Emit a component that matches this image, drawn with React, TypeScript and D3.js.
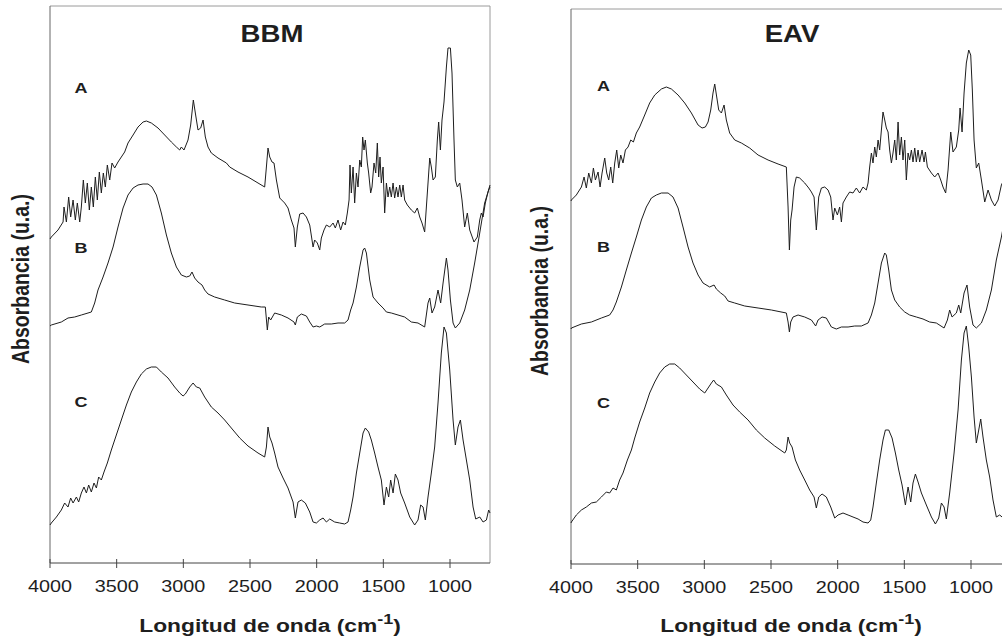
import React from 'react';
import * as d3 from 'd3';

type Pt = [number, number];

const tickValues = [4000, 3500, 3000, 2500, 2000, 1500, 1000];
const panelTitles = ['BBM', 'EAV'];
const traceLabels = ['A', 'B', 'C'];
const xTitle = 'Longitud de onda (cm';
const yTitle = 'Absorbancia (u.a.)';

// BBM panel (wavenumber cm-1, absorbance a.u. incl. stacking offset)
const bbmA: Pt[] = [
  [4000, 324], [3990, 326], [3940, 333], [3902, 341], [3895, 356], [3877, 341], [3860, 366], [3845, 346], [3827, 363], [3810, 343],
  [3795, 360], [3777, 341], [3765, 356], [3750, 383], [3735, 360], [3720, 380], [3705, 353], [3690, 376], [3675, 356], [3660, 386],
  [3645, 363], [3630, 391], [3615, 370], [3600, 390], [3585, 376], [3570, 398], [3552, 383], [3535, 400], [3515, 395], [3490, 401],
  [3465, 406], [3440, 411], [3415, 420], [3377, 428], [3340, 436], [3302, 441], [3277, 442], [3240, 440], [3190, 435], [3140, 428],
  [3090, 421], [3052, 416], [3027, 413], [3015, 416], [2995, 413], [2965, 423], [2945, 438], [2925, 463], [2910, 450], [2890, 433],
  [2870, 435], [2852, 443], [2835, 426], [2815, 416], [2790, 410], [2740, 405], [2677, 400], [2652, 396], [2590, 391], [2515, 386],
  [2440, 380], [2390, 376], [2377, 396], [2365, 415], [2352, 406], [2335, 401], [2320, 400], [2302, 383], [2277, 365], [2240, 360],
  [2215, 355], [2190, 343], [2170, 335], [2160, 316], [2145, 336], [2127, 349], [2102, 350], [2077, 346], [2052, 338], [2027, 316],
  [2015, 323], [1995, 320], [1977, 313], [1965, 325], [1945, 333], [1927, 338], [1902, 336], [1877, 340], [1860, 335], [1840, 343],
  [1820, 333], [1802, 341], [1785, 338], [1770, 350], [1757, 363], [1750, 398], [1740, 370], [1727, 396], [1715, 360], [1702, 390],
  [1690, 376], [1677, 403], [1665, 396], [1655, 426], [1645, 413], [1635, 423], [1620, 400], [1610, 390], [1595, 370], [1585, 376],
  [1570, 400], [1557, 390], [1545, 420], [1535, 386], [1525, 406], [1515, 380], [1502, 396], [1490, 350], [1477, 380], [1465, 366],
  [1452, 376], [1440, 366], [1427, 380], [1415, 365], [1402, 376], [1390, 366], [1377, 378], [1365, 366], [1352, 378], [1340, 363],
  [1320, 358], [1290, 353], [1265, 350], [1245, 355], [1227, 346], [1210, 340], [1190, 331], [1170, 370], [1152, 405], [1140, 396],
  [1127, 383], [1110, 386], [1095, 423], [1085, 441], [1072, 413], [1060, 443], [1045, 461], [1027, 496], [1015, 515], [997, 515],
  [985, 490], [970, 423], [960, 383], [945, 376], [927, 380], [910, 363], [890, 336], [870, 350], [852, 333], [820, 321],
  [795, 326], [777, 343], [765, 350], [752, 346], [735, 360], [715, 371], [700, 378],
];

const bbmB: Pt[] = [
  [4000, 237], [3990, 238], [3915, 241], [3865, 245], [3815, 246], [3765, 248], [3715, 250], [3690, 251], [3665, 260], [3640, 273],
  [3602, 286], [3565, 300], [3527, 316], [3490, 336], [3452, 355], [3415, 368], [3377, 375], [3340, 378], [3302, 379], [3265, 379],
  [3235, 376], [3202, 368], [3165, 350], [3127, 328], [3090, 310], [3052, 296], [3015, 288], [2977, 286], [2952, 287], [2935, 291],
  [2915, 285], [2890, 281], [2860, 278], [2840, 273], [2815, 269], [2765, 266], [2690, 263], [2615, 260], [2515, 258], [2415, 256],
  [2385, 256], [2370, 233], [2360, 246], [2345, 243], [2315, 250], [2265, 248], [2215, 245], [2170, 241], [2160, 238], [2145, 246],
  [2115, 249], [2077, 247], [2052, 241], [2027, 236], [2002, 237], [1977, 236], [1940, 239], [1890, 239], [1840, 240], [1790, 240],
  [1765, 243], [1745, 253], [1727, 260], [1702, 276], [1677, 296], [1652, 313], [1640, 315], [1627, 310], [1602, 283], [1577, 266],
  [1540, 260], [1502, 255], [1477, 251], [1440, 250], [1390, 248], [1340, 246], [1290, 241], [1240, 240], [1190, 236], [1165, 260],
  [1152, 265], [1135, 250], [1115, 256], [1090, 273], [1070, 260], [1052, 280], [1027, 305], [1015, 293], [997, 263], [977, 240],
  [960, 235], [927, 240], [890, 253], [852, 273], [815, 300], [777, 330], [740, 360], [710, 373], [700, 376],
];

const bbmC: Pt[] = [
  [4000, 38], [3990, 40], [3952, 46], [3915, 53], [3890, 60], [3865, 56], [3845, 65], [3827, 60], [3802, 66], [3785, 61],
  [3765, 70], [3745, 76], [3727, 70], [3710, 78], [3690, 71], [3670, 80], [3652, 75], [3635, 86], [3615, 83], [3595, 91],
  [3570, 100], [3540, 113], [3515, 123], [3490, 133], [3460, 145], [3427, 158], [3390, 171], [3352, 181], [3315, 189], [3277, 194],
  [3240, 196], [3202, 196], [3165, 191], [3115, 185], [3065, 176], [3027, 170], [3002, 167], [2985, 169], [2952, 176], [2927, 180],
  [2902, 176], [2877, 175], [2840, 166], [2790, 156], [2740, 150], [2690, 143], [2640, 135], [2577, 125], [2515, 117], [2440, 110],
  [2390, 106], [2377, 116], [2365, 136], [2352, 126], [2335, 120], [2315, 110], [2290, 96], [2252, 85], [2215, 75], [2177, 61],
  [2160, 45], [2140, 61], [2115, 63], [2085, 60], [2052, 51], [2027, 41], [2002, 40], [1977, 43], [1952, 45], [1927, 41],
  [1902, 44], [1865, 41], [1827, 40], [1790, 39], [1765, 41], [1745, 53], [1727, 66], [1702, 90], [1677, 110], [1652, 130],
  [1635, 135], [1610, 131], [1590, 123], [1565, 110], [1540, 96], [1515, 83], [1495, 58], [1477, 76], [1460, 66], [1445, 83],
  [1427, 70], [1410, 89], [1390, 83], [1370, 70], [1340, 60], [1302, 46], [1265, 38], [1240, 43], [1220, 58], [1202, 56],
  [1185, 43], [1165, 66], [1140, 90], [1115, 116], [1090, 160], [1065, 210], [1045, 236], [1027, 230], [1002, 193], [977, 143],
  [960, 118], [940, 136], [922, 143], [902, 123], [877, 103], [852, 83], [827, 56], [807, 44], [777, 46], [752, 41],
  [727, 43], [710, 53], [700, 50],
];

// EAV panel
const eavA: Pt[] = [
  [4000, 363], [3997, 364], [3960, 369], [3922, 377], [3902, 387], [3885, 376], [3867, 391], [3847, 381], [3832, 396], [3817, 384],
  [3797, 392], [3782, 377], [3767, 391], [3747, 406], [3732, 391], [3717, 384], [3702, 397], [3687, 381], [3672, 401], [3657, 414],
  [3642, 396], [3627, 409], [3610, 401], [3592, 414], [3572, 417], [3552, 424], [3532, 422], [3510, 431], [3485, 437], [3447, 449],
  [3410, 461], [3372, 469], [3322, 475], [3285, 477], [3247, 475], [3197, 469], [3147, 461], [3097, 451], [3047, 439], [3017, 436],
  [2992, 437], [2972, 442], [2952, 454], [2935, 471], [2922, 480], [2907, 467], [2892, 454], [2872, 451], [2852, 459], [2835, 444],
  [2810, 431], [2772, 424], [2722, 421], [2660, 416], [2597, 409], [2522, 404], [2447, 400], [2385, 397], [2372, 357], [2362, 314],
  [2352, 344], [2342, 354], [2327, 377], [2310, 387], [2285, 386], [2247, 381], [2217, 376], [2197, 372], [2177, 367], [2160, 334],
  [2142, 367], [2122, 376], [2097, 377], [2072, 374], [2052, 367], [2035, 344], [2022, 356], [2002, 349], [1985, 357], [1972, 342],
  [1960, 361], [1935, 367], [1910, 372], [1885, 371], [1860, 376], [1835, 371], [1810, 377], [1785, 374], [1772, 381], [1760, 397],
  [1747, 411], [1735, 401], [1722, 417], [1710, 407], [1697, 424], [1685, 414], [1672, 434], [1660, 452], [1647, 444], [1635, 436],
  [1622, 432], [1610, 414], [1597, 401], [1585, 411], [1572, 424], [1560, 404], [1547, 442], [1535, 409], [1522, 427], [1510, 404],
  [1497, 424], [1485, 384], [1472, 411], [1460, 404], [1447, 414], [1435, 402], [1422, 416], [1410, 402], [1397, 414], [1385, 402],
  [1367, 414], [1352, 402], [1342, 412], [1327, 397], [1297, 391], [1272, 387], [1247, 391], [1227, 384], [1210, 377], [1190, 371],
  [1172, 394], [1152, 432], [1135, 412], [1110, 417], [1092, 434], [1082, 456], [1067, 432], [1052, 471], [1035, 501], [1017, 514],
  [1002, 509], [990, 474], [977, 424], [960, 396], [942, 401], [922, 384], [897, 362], [872, 374], [847, 364], [822, 358],
  [797, 364], [772, 379], [740, 388], [700, 392],
];

const eavB: Pt[] = [
  [4000, 235], [3997, 236], [3922, 240], [3847, 242], [3772, 246], [3710, 249], [3685, 254], [3660, 262], [3622, 277], [3585, 294],
  [3547, 311], [3510, 327], [3472, 344], [3435, 357], [3397, 366], [3360, 369], [3322, 371], [3272, 371], [3235, 367], [3197, 356],
  [3160, 337], [3122, 317], [3085, 301], [3047, 289], [3010, 281], [2960, 277], [2927, 279], [2910, 275], [2877, 271], [2847, 268],
  [2822, 263], [2772, 261], [2697, 258], [2597, 256], [2497, 254], [2385, 251], [2372, 242], [2362, 232], [2352, 242], [2335, 247],
  [2297, 249], [2247, 247], [2197, 244], [2165, 238], [2147, 244], [2117, 247], [2085, 246], [2047, 237], [2010, 235], [1972, 237],
  [1922, 237], [1872, 238], [1822, 238], [1772, 241], [1747, 249], [1722, 261], [1697, 281], [1672, 301], [1647, 311], [1635, 309],
  [1617, 294], [1597, 274], [1572, 264], [1535, 257], [1497, 252], [1460, 249], [1410, 247], [1360, 245], [1310, 242], [1260, 241],
  [1202, 236], [1177, 244], [1160, 254], [1142, 247], [1110, 251], [1092, 259], [1077, 251], [1052, 271], [1030, 279], [1010, 257],
  [985, 239], [960, 236], [922, 241], [885, 254], [847, 274], [810, 304], [772, 327], [735, 354], [700, 372],
];

const eavC: Pt[] = [
  [4000, 41], [3997, 42], [3960, 49], [3922, 54], [3885, 57], [3847, 61], [3810, 62], [3772, 67], [3735, 72], [3710, 71],
  [3685, 76], [3660, 74], [3635, 84], [3610, 91], [3577, 104], [3547, 114], [3522, 126], [3485, 142], [3447, 156], [3410, 171],
  [3372, 182], [3335, 191], [3297, 197], [3260, 200], [3222, 200], [3185, 196], [3135, 189], [3085, 182], [3035, 175], [2997, 171],
  [2972, 176], [2947, 181], [2930, 184], [2910, 180], [2872, 177], [2835, 169], [2785, 159], [2735, 152], [2672, 144], [2610, 134],
  [2547, 126], [2472, 118], [2397, 111], [2385, 114], [2372, 127], [2360, 121], [2342, 117], [2317, 104], [2285, 94], [2247, 84],
  [2210, 74], [2177, 67], [2160, 56], [2142, 67], [2117, 70], [2085, 67], [2052, 57], [2022, 46], [1997, 49], [1960, 51],
  [1922, 49], [1885, 47], [1847, 45], [1810, 42], [1772, 41], [1752, 44], [1735, 57], [1710, 81], [1685, 104], [1660, 124],
  [1642, 134], [1617, 134], [1592, 126], [1567, 111], [1542, 94], [1517, 79], [1492, 59], [1472, 77], [1452, 62], [1435, 81],
  [1417, 90], [1397, 82], [1372, 71], [1335, 59], [1297, 47], [1267, 40], [1242, 46], [1222, 61], [1202, 57], [1185, 45],
  [1160, 71], [1127, 111], [1097, 154], [1072, 204], [1052, 231], [1035, 238], [1017, 217], [997, 187], [977, 147], [960, 121],
  [942, 134], [927, 145], [910, 127], [885, 104], [860, 87], [835, 64], [810, 47], [785, 49], [767, 47], [730, 46], [700, 45],
];

const FONT = '"Liberation Sans", Arial, Helvetica, sans-serif';
const SX = 1.2; // horizontal stretch of the original figure's lettering
const INK = '#1e1e1e';

type PanelCfg = {
  x0: number; x1: number; top: number; bottom: number;
  title: string; titleX: number; titleY: number;
  series: Pt[][];
  labelX: number; labelY: number[];
  yLabelX: number; yLabelY: number;
};

function SText({ x, y, size, bold, children, rotate }: any) {
  const tr = rotate
    ? `translate(${x},${y}) scale(${SX},1) rotate(-90)`
    : `translate(${x},${y}) scale(${SX},1)`;
  return (
    <text transform={tr} textAnchor="middle" fontFamily={FONT} fontSize={size}
      fontWeight={bold ? 'bold' : 'normal'} fill={INK}>
      {children}
    </text>
  );
}

function Panel({ cfg }: { cfg: PanelCfg }) {
  const x = d3.scaleLinear().domain([4000, 700]).range([cfg.x0, cfg.x1]);
  const h = cfg.bottom - cfg.top;
  const y = d3.scaleLinear().domain([0, h]).range([cfg.bottom, cfg.top]);
  const line = d3.line<Pt>().x(d => x(d[0])).y(d => y(d[1]));
  const cx = (cfg.x0 + cfg.x1) / 2;
  return (
    <g>
      <line x1={cfg.x0} y1={cfg.top} x2={cfg.x1} y2={cfg.top} stroke="#9a9a9a" strokeWidth={1} />
      <line x1={cfg.x1} y1={cfg.top} x2={cfg.x1} y2={cfg.bottom} stroke="#9a9a9a" strokeWidth={1} />
      <line x1={cfg.x0} y1={cfg.top} x2={cfg.x0} y2={cfg.bottom} stroke="#666" strokeWidth={1} />
      <line x1={cfg.x0} y1={cfg.bottom} x2={cfg.x1} y2={cfg.bottom} stroke="#444" strokeWidth={1} />
      {tickValues.map(t => (
        <g key={t}>
          <line x1={x(t)} x2={x(t)} y1={cfg.bottom - 4} y2={cfg.bottom + 5} stroke="#444" strokeWidth={1} />
          <SText x={x(t)} y={cfg.bottom + 29} size={16.5}>{t}</SText>
        </g>
      ))}
      {cfg.series.map((s, i) => (
        <path key={i} d={line(s) || ''} fill="none" stroke={INK} strokeWidth={1} strokeLinejoin="round" />
      ))}
      {traceLabels.map((l, i) => (
        <SText key={l} x={cfg.labelX} y={cfg.labelY[i]} size={15} bold>{l}</SText>
      ))}
      <SText x={cfg.titleX} y={cfg.titleY} size={23} bold>{cfg.title}</SText>
      <text transform={`translate(${cx},632) scale(${SX},1)`} textAnchor="middle" fontFamily={FONT}
        fontSize={19} fontWeight="bold" fill={INK}>
        {xTitle}
        <tspan fontSize={15} dy={-8}>-1</tspan>
        <tspan dy={8}>)</tspan>
      </text>
      <SText x={cfg.yLabelX} y={cfg.yLabelY} size={19.5} bold rotate>{yTitle}</SText>
    </g>
  );
}

const panels: PanelCfg[] = [
  {
    x0: 50, x1: 490, top: 6, bottom: 563, title: panelTitles[0], titleX: 272, titleY: 42,
    series: [bbmA, bbmB, bbmC], labelX: 81, labelY: [93, 253, 407], yLabelX: 29, yLabelY: 279,
  },
  {
    x0: 571, x1: 1011, top: 9, bottom: 564, title: panelTitles[1], titleX: 792, titleY: 42,
    series: [eavA, eavB, eavC], labelX: 603.5, labelY: [91, 252, 408], yLabelX: 548, yLabelY: 291,
  },
];

export default function App() {
  return (
    <div style={{ position: 'absolute', left: 0, top: 0 }}>
      <svg width={1002} height={641} style={{ display: 'block', background: '#fff' }}>
        {panels.map((p, i) => <Panel key={i} cfg={p} />)}
      </svg>
    </div>
  );
}
